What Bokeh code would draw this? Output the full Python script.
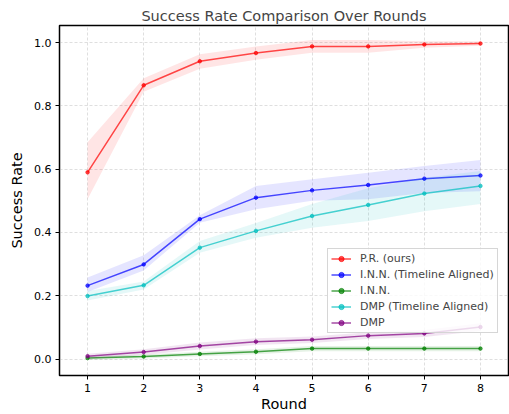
from bokeh.plotting import figure
from bokeh.models import Range1d, FixedTicker, Legend, LegendItem, CustomJSTickFormatter
from bokeh.embed import file_html
from bokeh.resources import INLINE

rounds = [1, 2, 3, 4, 5, 6, 7, 8]

pr = [0.590, 0.865, 0.941, 0.967, 0.988, 0.988, 0.994, 0.997]
pr_lo = [0.505, 0.845, 0.917, 0.946, 0.968, 0.968, 0.984, 0.990]
pr_hi = [0.685, 0.887, 0.963, 0.988, 1.008, 1.008, 1.004, 1.004]

inn_ta = [0.232, 0.299, 0.442, 0.510, 0.533, 0.550, 0.570, 0.580]
inn_ta_lo = [0.212, 0.280, 0.431, 0.473, 0.500, 0.505, 0.525, 0.530]
inn_ta_hi = [0.258, 0.328, 0.454, 0.547, 0.568, 0.589, 0.610, 0.629]

inn = [0.003, 0.008, 0.016, 0.023, 0.033, 0.033, 0.033, 0.033]
inn_lo = [-0.003, 0.002, 0.009, 0.015, 0.025, 0.025, 0.025, 0.025]
inn_hi = [0.009, 0.014, 0.023, 0.031, 0.041, 0.041, 0.041, 0.041]

dmp_ta = [0.199, 0.233, 0.352, 0.405, 0.452, 0.487, 0.523, 0.547]
dmp_ta_lo = [0.185, 0.220, 0.336, 0.383, 0.415, 0.436, 0.467, 0.490]
dmp_ta_hi = [0.215, 0.245, 0.373, 0.430, 0.490, 0.540, 0.573, 0.594]

dmp = [0.009, 0.022, 0.041, 0.055, 0.061, 0.074, 0.081, 0.101]
dmp_lo = [0.001, 0.013, 0.030, 0.044, 0.051, 0.063, 0.070, 0.089]
dmp_hi = [0.017, 0.031, 0.052, 0.066, 0.071, 0.085, 0.092, 0.113]

y_ticks = [0.0, 0.2, 0.4, 0.6, 0.8, 1.0]

labels = ["P.R. (ours)", "I.N.N. (Timeline Aligned)", "I.N.N.",
          "DMP (Timeline Aligned)", "DMP"]
colors = ["#ff0000", "#0000ff", "#008000", "#00bfbf", "#800080"]
series = [(pr, pr_lo, pr_hi), (inn_ta, inn_ta_lo, inn_ta_hi), (inn, inn_lo, inn_hi),
          (dmp_ta, dmp_ta_lo, dmp_ta_hi), (dmp, dmp_lo, dmp_hi)]

FONT = "DejaVu Sans"

p = figure(width=509, height=414, output_backend="svg", toolbar_location=None,
           x_range=Range1d(0.5, 8.5), y_range=Range1d(-0.052, 1.054),
           min_border_left=59, min_border_right=1, min_border_top=25,
           min_border_bottom=39)

p.title.text = "Success Rate Comparison Over Rounds"
p.title.align = "center"
p.title.text_font = FONT
p.title.text_font_size = "14.5px"
p.title.text_font_style = "normal"
p.title.standoff = 4
p.title.offset = 0

p.outline_line_color = "black"
p.outline_line_width = 1.5
p.outline_line_alpha = 1.0

for ax in (p.xaxis, p.yaxis):
    ax.axis_line_color = None
    ax.major_tick_in = 0
    ax.major_tick_out = 4
    ax.major_tick_line_color = "black"
    ax.minor_tick_line_color = None
    ax.major_label_text_font = FONT
    ax.major_label_text_font_size = "11px"
    ax.major_label_text_color = "black"
    ax.axis_label_text_font = FONT
    ax.axis_label_text_font_size = "14.5px"
    ax.axis_label_text_font_style = "normal"
    ax.axis_label_text_color = "black"
    ax.major_label_standoff = 4

p.xaxis.axis_label = "Round"
p.yaxis.axis_label = "Success Rate"
p.xaxis.axis_label_standoff = 1
p.yaxis.axis_label_standoff = 6
p.xaxis.ticker = FixedTicker(ticks=rounds)
p.yaxis.ticker = FixedTicker(ticks=y_ticks)
p.yaxis.formatter = CustomJSTickFormatter(code="return tick.toFixed(1);")

p.grid.grid_line_color = "#b0b0b0"
p.grid.grid_line_alpha = 0.5
p.grid.grid_line_dash = "3 2"
p.grid.grid_line_width = 0.8

items = []
for lab, col, (m, lo, hi) in zip(labels, colors, series):
    p.varea(x=rounds, y1=lo, y2=hi, fill_color=col, fill_alpha=0.1)
    ln = p.line(rounds, m, line_color=col, line_alpha=0.7, line_width=1.5)
    sc = p.scatter(rounds, m, size=3.5, fill_color=col, line_color=col, alpha=0.7)
    items.append(LegendItem(label=lab, renderers=[ln, sc]))

legend = Legend(items=items, location=(268, 42))
legend.label_text_font = FONT
legend.label_text_font_size = "11px"
legend.label_height = 13
legend.glyph_height = 13
legend.glyph_width = 20
legend.spacing = 3
legend.padding = 3
legend.margin = 0
legend.label_standoff = 9
legend.border_line_color = "#cccccc"
legend.border_line_alpha = 0.8
legend.background_fill_alpha = 0.8
p.add_layout(legend)

open("out.html", "w").write(file_html(p, INLINE))
